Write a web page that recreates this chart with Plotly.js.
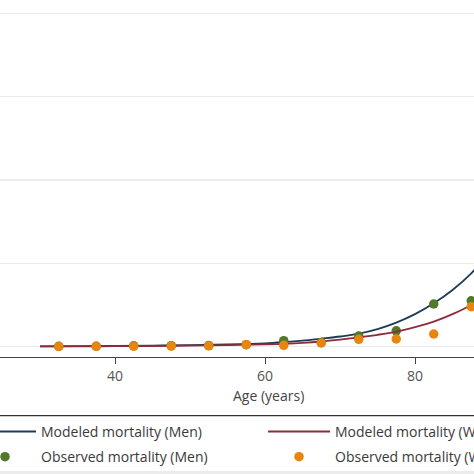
<!DOCTYPE html>
<html>
<head>
<meta charset="utf-8">
<script src="https://cdn.plot.ly/plotly-3.0.1.min.js"></script>
<style>
  html, body { margin: 0; padding: 0; background: #fff; }
  #chart { width: 474px; height: 474px; }
</style>
</head>
<body>
<div id="chart"></div>
<script>
// Observed mortality, 5-year age group midpoints
const obsAges = [32.5, 37.5, 42.5, 47.5, 52.5, 57.5, 62.5, 67.5, 72.5, 77.5, 82.5, 87.5];
const obsMen = [0.0004, 0.0005, 0.0010, 0.0012, 0.0015, 0.0024, 0.0072, 0.0050, 0.0128, 0.0190, 0.0512, 0.0550];
const obsWomen = [0.0003, 0.0004, 0.0006, 0.0007, 0.0010, 0.0024, 0.0016, 0.0044, 0.0088, 0.0092, 0.0152, 0.0480];

// Modeled mortality curves
const modelAges = [30, 35, 40, 45, 50, 55, 60, 62.5, 65, 67.5, 70, 72.5, 75, 77.5, 80, 82.5, 85, 87.5, 90];
const modelMen = [0.0004, 0.0006, 0.0009, 0.0013, 0.0018, 0.0026, 0.0040, 0.0054, 0.0072, 0.0096, 0.0122, 0.0156, 0.0210, 0.0288, 0.0390, 0.0520, 0.0680, 0.0880, 0.1140];
const modelWomen = [0.0003, 0.0004, 0.0006, 0.0008, 0.0012, 0.0018, 0.0027, 0.0034, 0.0045, 0.0062, 0.0085, 0.0112, 0.0142, 0.0180, 0.0235, 0.0300, 0.0390, 0.0500, 0.0640];

const navy = "#1f3b5a";
const maroon = "#8c2d3c";
const green = "#4e7a2a";
const orange = "#e8850e";

const data = [
	{
		x: modelAges, y: modelMen,
		type: "scatter", mode: "lines",
		name: "Modeled mortality (Men)",
		line: { color: navy, width: 1.8, shape: "spline" },
		legend: "legend", legendgroup: "a",
	},
	{
		x: obsAges, y: obsMen,
		type: "scatter", mode: "markers",
		name: "Observed mortality (Men)",
		marker: { color: green, size: 9.5 },
		legend: "legend", legendgroup: "b",
	},
	{
		x: modelAges, y: modelWomen,
		type: "scatter", mode: "lines",
		name: "Modeled mortality (Women)",
		line: { color: maroon, width: 1.8, shape: "spline" },
		legend: "legend2", legendgroup: "c",
	},
	{
		x: obsAges, y: obsWomen,
		type: "scatter", mode: "markers",
		name: "Observed mortality (Women)",
		marker: { color: orange, size: 9.5 },
		legend: "legend2", legendgroup: "d",
	},
];

const legendStyle = {
	orientation: "v",
	yanchor: "top",
	y: -0.165,
	xanchor: "left",
	itemwidth: 62,
	tracegroupgap: 4,
	bgcolor: "rgba(0,0,0,0)",
	font: { family: "Open Sans", size: 14, color: "#3a3a3a" },
};

const layout = {
	width: 474,
	height: 474,
	paper_bgcolor: "#fff",
	plot_bgcolor: "#fff",
	margin: { l: 0, r: 0, t: 0, b: 117, autoexpand: false },
	font: { family: "Open Sans", size: 14, color: "#444" },
	showlegend: true,
	legend: Object.assign({}, legendStyle, { x: -31 / 474 }),
	legend2: Object.assign({}, legendStyle, { x: 263 / 474 }),
	xaxis: {
		range: [24.667, 87.867],
		tickvals: [40, 60, 80],
		ticks: "outside",
		ticklen: 6,
		tickcolor: "#444",
		showline: true,
		linecolor: "#444",
		linewidth: 1.3,
		showgrid: false,
		zeroline: false,
		automargin: false,
		tickfont: { family: "Open Sans", size: 14, color: "#555" },
	},
	yaxis: {
		range: [-0.0124, 0.416],
		tick0: 0,
		dtick: 0.1,
		showticklabels: false,
		ticks: "",
		showgrid: true,
		gridcolor: "#ebebeb",
		gridwidth: 1.5,
		zeroline: false,
		showline: false,
		automargin: false,
	},
	annotations: [
		{
			text: "Age (years)",
			xref: "paper", yref: "paper",
			x: 268 / 474, y: (357 - 395) / 357,
			xanchor: "center", yanchor: "middle",
			showarrow: false,
			font: { family: "Open Sans", size: 14, color: "#444" },
		},
	],
	shapes: [
		{
			type: "line", xref: "paper", yref: "paper",
			x0: 0, x1: 1, y0: (357 - 415.7) / 357, y1: (357 - 415.7) / 357,
			line: { color: "#333", width: 1.3 },
		},
		{
			type: "rect", xref: "paper", yref: "paper",
			x0: 0, x1: 1, y0: (357 - 471) / 357, y1: (357 - 476) / 357,
			fillcolor: "#ececec", line: { width: 0 },
		},
	],
};

const config = { displayModeBar: false, staticPlot: true };

Plotly.newPlot("chart", data, layout, config);
</script>
</body>
</html>
